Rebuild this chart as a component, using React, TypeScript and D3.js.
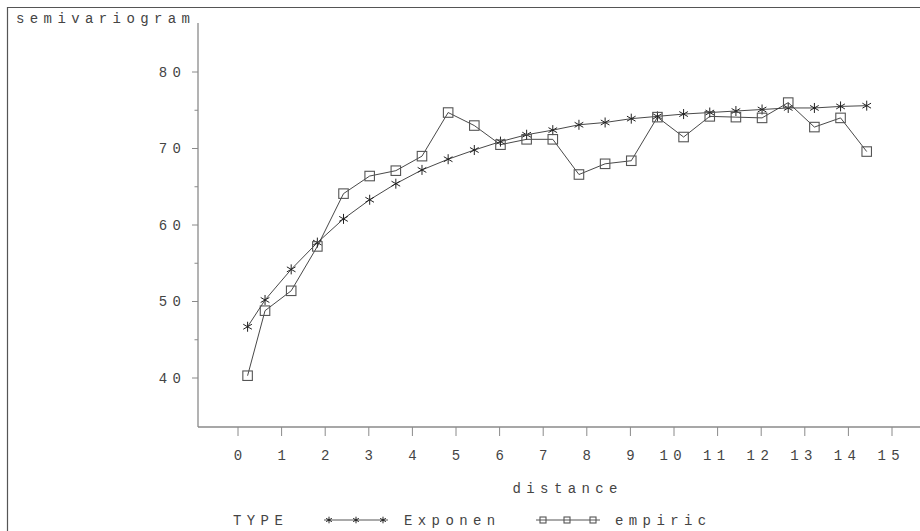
import React, { useEffect, useRef } from "react";
import * as d3 from "d3";

const lags = [0.22, 0.62, 1.22, 1.82, 2.42, 3.02, 3.62, 4.22, 4.82, 5.42, 6.02, 6.62, 7.22, 7.82, 8.42, 9.02, 9.62, 10.22, 10.82, 11.42, 12.02, 12.62, 13.22, 13.82, 14.42];
const empiric = [40.3, 48.8, 51.4, 57.2, 64.1, 66.4, 67.1, 69.0, 74.7, 73.0, 70.5, 71.2, 71.2, 66.6, 68.0, 68.4, 74.1, 71.5, 74.2, 74.1, 74.0, 76.0, 72.8, 74.0, 69.6];
const exponen = [46.7, 50.2, 54.2, 57.7, 60.8, 63.3, 65.4, 67.2, 68.6, 69.8, 70.9, 71.8, 72.4, 73.1, 73.4, 73.9, 74.2, 74.5, 74.7, 74.9, 75.1, 75.3, 75.3, 75.5, 75.6];
const xTicks = [0, 1, 2, 3, 4, 5, 6, 7, 8, 9, 10, 11, 12, 13, 14, 15];
const yMajor = [40, 50, 60, 70, 80];
const yMinor = [45, 55, 65, 75];
const labels = { title: "semivariogram", xTitle: "distance", legendTitle: "TYPE", s1: "Exponen", s2: "empiric" };

const W = 920, H = 531;
const FONT = "'Liberation Mono', 'DejaVu Sans Mono', monospace";
const FS = 14;
const LS = 5.4;

export default function App() {
  const ref = useRef<SVGSVGElement>(null);
  useEffect(() => {
    const svg = d3.select(ref.current);
    svg.selectAll("*").remove();
    const x = d3.scaleLinear().domain([0, 15]).range([238, 892]);
    const y = d3.scaleLinear().domain([40, 80]).range([378, 72]);
    const axisX0 = 198, axisY0 = 427;
    const axisCol = "#8a8a8a";
    const txt = "#444";

    // frame
    svg.append("path").attr("d", `M7.5,${H} L7.5,7.5 L${W},7.5`).attr("fill", "none").attr("stroke", "#555").attr("stroke-width", 1.2);

    // axes
    svg.append("line").attr("x1", axisX0).attr("x2", axisX0).attr("y1", 23).attr("y2", axisY0).attr("stroke", axisCol).attr("stroke-width", 1.3);
    svg.append("line").attr("x1", axisX0).attr("x2", W).attr("y1", axisY0).attr("y2", axisY0).attr("stroke", axisCol).attr("stroke-width", 1.3);

    const textStyle = (s: any) =>
      s.attr("font-family", FONT).attr("font-size", FS).attr("letter-spacing", LS).attr("fill", txt);

    yMajor.forEach(v => {
      svg.append("line").attr("x1", axisX0 - 6).attr("x2", axisX0).attr("y1", y(v)).attr("y2", y(v)).attr("stroke", axisCol);
      textStyle(svg.append("text").attr("x", 181 + LS).attr("y", y(v)).attr("dy", "0.35em").attr("text-anchor", "end").text(String(v)));
    });
    yMinor.forEach(v => {
      svg.append("line").attr("x1", axisX0 - 3.5).attr("x2", axisX0).attr("y1", y(v)).attr("y2", y(v)).attr("stroke", axisCol);
    });
    xTicks.forEach(v => {
      svg.append("line").attr("x1", x(v)).attr("x2", x(v)).attr("y1", axisY0).attr("y2", axisY0 + 9).attr("stroke", axisCol);
      const label = String(v);
      textStyle(svg.append("text").attr("x", x(v) + LS / 2 + (label.length > 1 ? -3.5 : 0)).attr("y", 455).attr("dy", "0.35em").attr("text-anchor", "middle").text(label));
    });

    textStyle(svg.append("text").attr("x", 16).attr("y", 18).attr("dy", "0.35em").text(labels.title));
    textStyle(svg.append("text").attr("x", 565 + LS / 2).attr("y", 488).attr("dy", "0.35em").attr("text-anchor", "middle").text(labels.xTitle));

    const lineGen = d3.line<[number, number]>().x(d => x(d[0])).y(d => y(d[1]));
    const expPts: [number, number][] = lags.map((l, i) => [l, exponen[i]]);
    const empPts: [number, number][] = lags.map((l, i) => [l, empiric[i]]);

    const star = (g: any, cx: number, cy: number, r: number) => {
      const a = Math.PI / 3;
      const d = `M${cx},${cy - r}L${cx},${cy + r}` +
        `M${cx - r * Math.sin(a)},${cy - r * Math.cos(a)}L${cx + r * Math.sin(a)},${cy + r * Math.cos(a)}` +
        `M${cx - r * Math.sin(a)},${cy + r * Math.cos(a)}L${cx + r * Math.sin(a)},${cy - r * Math.cos(a)}`;
      g.append("path").attr("d", d).attr("stroke", "#222").attr("stroke-width", 1).attr("fill", "none");
    };
    const square = (g: any, cx: number, cy: number, s: number) => {
      g.append("rect").attr("x", cx - s / 2).attr("y", cy - s / 2).attr("width", s).attr("height", s)
        .attr("fill", "none").attr("stroke", "#555").attr("stroke-width", 1.1);
    };

    svg.append("path").attr("d", lineGen(expPts)).attr("fill", "none").attr("stroke", "#333").attr("stroke-width", 0.9);
    svg.append("path").attr("d", lineGen(empPts)).attr("fill", "none").attr("stroke", "#333").attr("stroke-width", 0.9);
    const g = svg.append("g");
    expPts.forEach(p => star(g, x(p[0]), y(p[1]), 5));
    empPts.forEach(p => square(g, x(p[0]), y(p[1]), 9.5));

    // legend
    const ly = 520;
    textStyle(svg.append("text").attr("x", 233).attr("y", ly).attr("dy", "0.35em").text(labels.legendTitle));
    svg.append("line").attr("x1", 324).attr("x2", 388).attr("y1", ly).attr("y2", ly).attr("stroke", "#555");
    [329, 356, 383].forEach(cx => star(svg, cx, ly, 3.3));
    textStyle(svg.append("text").attr("x", 404).attr("y", ly).attr("dy", "0.35em").text(labels.s1));
    svg.append("line").attr("x1", 536).attr("x2", 600).attr("y1", ly).attr("y2", ly).attr("stroke", "#555");
    [543, 567, 593].forEach(cx => square(svg, cx, ly, 6));
    textStyle(svg.append("text").attr("x", 615).attr("y", ly).attr("dy", "0.35em").text(labels.s2));
  }, []);

  return (
    <svg ref={ref} width={W} height={H} style={{ position: "fixed", left: 0, top: 0, background: "#fff" }} />
  );
}
